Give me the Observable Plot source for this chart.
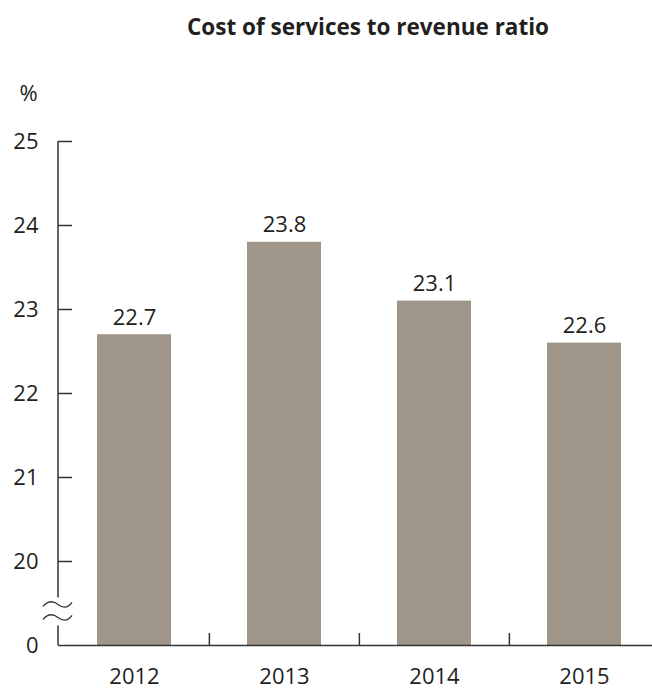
<!DOCTYPE html>
<html>
<head>
<meta charset="utf-8">
<script src="https://cdn.jsdelivr.net/npm/d3@7"></script>
<script src="https://cdn.jsdelivr.net/npm/@observablehq/plot@0.6"></script>
<style>
  html, body { margin: 0; padding: 0; background: #fff; }
  body { width: 652px; height: 691px; overflow: hidden; font-family: "Open Sans", sans-serif; color: #231f20; }
  #title { height: 50px; box-sizing: border-box; padding-top: 14px; padding-left: 84px; text-align: center;
           font: bold 22.5px/26px "Open Sans", sans-serif; color: #231f20; white-space: nowrap; }
  #chart svg { display: block; }
</style>
</head>
<body>
<div id="title">Cost of services to revenue ratio</div>
<div id="chart"></div>
<script>
// ---- data ----
const years = ["2012", "2013", "2014", "2015"];
const ratios = [22.7, 23.8, 23.1, 22.6];
const yTickValues = [20, 21, 22, 23, 24, 25];
const axisBase = 19;        // the broken axis bottom, labelled "0"
const axisBaseLabel = "0";
const breakAt = 19.4;       // where the axis break symbol sits
const yUnit = "%";

const data = years.map((y, i) => ({year: y, value: ratios[i]}));

const W = 652, H = 641;
const marginLeft = 58, marginTop = 91, marginBottom = 46;
const xRange = [58, 659];
const step = (xRange[1] - xRange[0]) / years.length;
const ink = "#231f20";
const axisInk = "#333333";
const barFill = "#a09589";
const fontSize = 22;

function axisWithBreak(index, scales, values, dims, context) {
  const ns = "http://www.w3.org/2000/svg";
  const doc = context.document;
  const g = doc.createElementNS(ns, "g");
  const x0 = dims.marginLeft;
  const yTop = scales.y(d3.max(yTickValues));
  const yBase = scales.y(axisBase);
  const yb = scales.y(breakAt);
  const segs = [[yTop, yb - 14], [yb + 14, yBase]];
  for (const [a, b] of segs) {
    const l = doc.createElementNS(ns, "line");
    l.setAttribute("x1", x0); l.setAttribute("x2", x0);
    l.setAttribute("y1", a); l.setAttribute("y2", b);
    l.setAttribute("stroke", axisInk); l.setAttribute("stroke-width", 1.5);
    g.appendChild(l);
  }
  for (const cy of [yb - 7, yb + 6]) {
    const p = doc.createElementNS(ns, "path");
    p.setAttribute("d", `M${x0 - 15},${cy + 2} C${x0 - 9},${cy - 5} ${x0 - 4},${cy - 3} ${x0},${cy} S${x0 + 9},${cy + 5} ${x0 + 14},${cy - 2}`);
    p.setAttribute("fill", "none");
    p.setAttribute("stroke", axisInk);
    p.setAttribute("stroke-width", 1.3);
    g.appendChild(p);
  }
  return g;
}

const chart = Plot.plot({
  width: W,
  height: H,
  marginLeft, marginTop, marginBottom, marginRight: 0,
  style: {fontFamily: "Open Sans, sans-serif", fontSize: fontSize + "px", color: ink, background: "#fff"},
  x: {domain: years, range: xRange, paddingInner: 0.51, paddingOuter: 0.255, label: null},
  y: {domain: [axisBase, d3.max(yTickValues)], label: null},
  marks: [
    Plot.barY(data, {x: "year", y1: axisBase, y2: "value", fill: barFill}),
    Plot.ruleY([axisBase], {stroke: axisInk, strokeWidth: 1.5}),
    Plot.tickY(yTickValues, {y: d => d, stroke: axisInk, strokeWidth: 1.5, insetRight: (W - marginLeft) - 14}),
    Plot.tickX(years.slice(1), {x: d => d, stroke: axisInk, strokeWidth: 1.5, dx: -step / 2, insetTop: (H - marginTop - marginBottom) - 12}),
    axisWithBreak,
    Plot.axisY([axisBase, ...yTickValues], {tickSize: 0, tickPadding: 20, fontSize: fontSize, fill: ink,
      tickFormat: d => d === axisBase ? axisBaseLabel : String(d), label: null}),
    Plot.axisX({tickSize: 0, tickPadding: 23, fontSize: fontSize, fill: ink, label: null}),
    Plot.text(data, {x: "year", y: "value", text: d => d.value.toFixed(1), dy: -10, lineAnchor: "bottom", fontSize: fontSize, fill: ink}),
    Plot.text([yUnit], {frameAnchor: "top-left", text: d => d, textAnchor: "middle", dx: -30, dy: -41, lineAnchor: "bottom", fontSize: fontSize, fill: ink})
  ]
});
document.getElementById("chart").appendChild(chart);
</script>
</body>
</html>
